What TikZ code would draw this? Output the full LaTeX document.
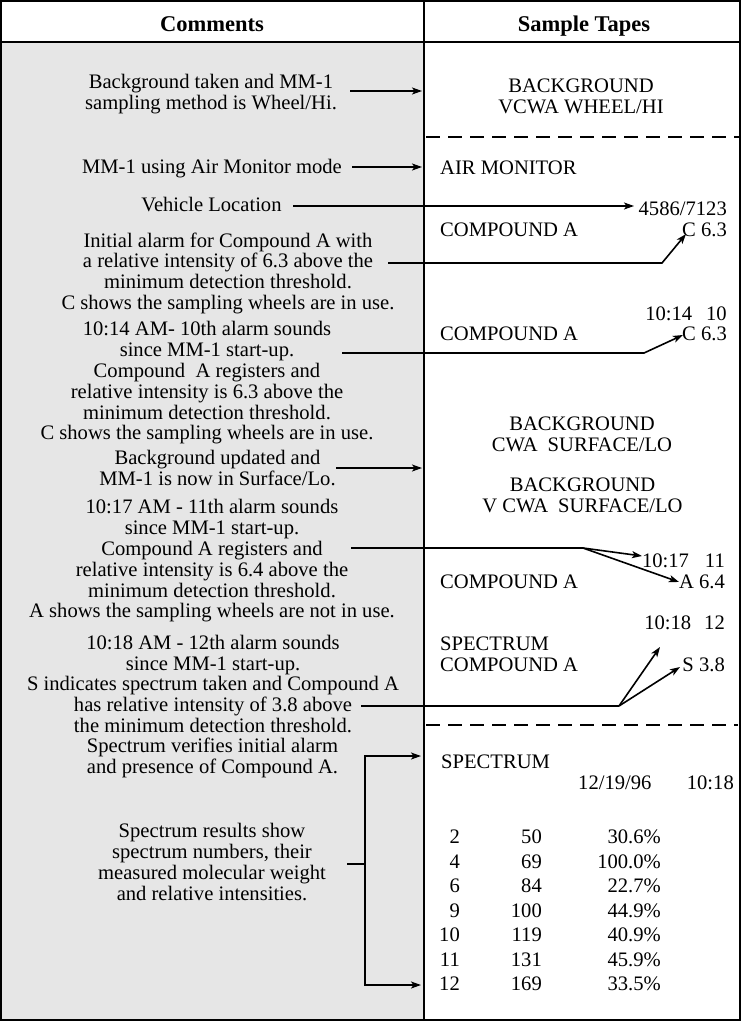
\documentclass[tikz,border=0pt]{standalone}
\usepackage{fontspec}
\setmainfont{Liberation Serif}
\usetikzlibrary{arrows.meta}
\definecolor{leftgray}{RGB}{230,230,230}
\newcommand\cmtfont{\fontsize{20.6pt}{20.8pt}\selectfont}
\newcommand\hdfont{\fontsize{22.5pt}{24pt}\selectfont\bfseries}
\begin{document}
\begin{tikzpicture}[x=1pt,y=-1pt,
  cmt/.style={font=\cmtfont, align=center, inner sep=0pt, yshift=-2.66pt},
  tape/.style={font=\cmtfont, inner sep=0pt, yshift=-2.66pt},
  hd/.style={font=\hdfont, inner sep=0pt, yshift=-2.65pt},
  frame/.style={line width=2pt},
  dashline/.style={line width=1.8pt, dash pattern=on 14pt off 8pt},
  ln/.style={line width=1.6pt},
  arr/.style={line width=1.6pt, -{Stealth[length=10pt,width=7pt,inset=2.5pt]}}]
\useasboundingbox (0,0) rectangle (743,1023);
% background and frame
\fill[leftgray] (1,42) rectangle (423.5,1020);
\draw[frame] (1,1) rectangle (740,1020);
\draw[frame] (423.5,1) -- (423.5,1020);
\draw[frame] (1,42) -- (740,42);
\draw[dashline] (426,137) -- (740,137);
\draw[dashline] (426,725) -- (738,725);
% headers
\node[hd] (hC) at (212,24) {\strut Comments};
\node[hd] (hS) at (584,24) {\strut Sample Tapes};
% comments
\node[cmt] (c1) at (211,92) {\strut Background taken and MM-1\\\strut sampling method is Wheel/Hi.};
\node[cmt] (c2) at (212,167) {\strut MM-1 using Air Monitor mode};
\node[cmt] (c3) at (211.5,205) {\strut Vehicle Location};
\node[cmt] (c4) at (228,271.5) {\strut Initial alarm for Compound A with\\\strut a relative intensity of 6.3 above the\\\strut minimum detection threshold.\\\strut C shows the sampling wheels are in use.};
\node[cmt] (c5) at (207,381) {\strut 10:14 AM- 10th alarm sounds\\\strut since MM-1 start-up.\\\strut Compound\ \ A registers and\\\strut relative intensity is 6.3 above the\\\strut minimum detection threshold.\\\strut C shows the sampling wheels are in use.};
\node[cmt] (c6) at (217.5,468.5) {\strut Background updated and\\\strut MM-1 is now in Surface/Lo.};
\node[cmt] (c7) at (212,559) {\strut 10:17 AM - 11th alarm sounds\\\strut since MM-1 start-up.\\\strut Compound A registers and\\\strut relative intensity is 6.4 above the\\\strut minimum detection threshold.\\\strut A shows the sampling wheels are not in use.};
\node[cmt] (c8) at (213,684) {\strut 10:18 AM - 12th alarm sounds\\\strut since MM-1 start-up.\\\strut S indicates spectrum taken and Compound A\\\strut has relative intensity of 3.8 above\\\strut the minimum detection threshold.};
\node[cmt] (c9) at (212.5,756.5) {\strut Spectrum verifies initial alarm\\\strut and presence of Compound A.};
\node[cmt] (c10) at (212,862) {\strut Spectrum results show\\\strut spectrum numbers, their\\\strut measured molecular weight\\\strut and relative intensities.};
% sample tapes
\node[cmt] (r1) at (581,96) {\strut BACKGROUND\\\strut VCWA WHEEL/HI};
\node[tape,anchor=west] (r2) at (440,168) {\strut AIR MONITOR};
\node[tape,anchor=east] (r3) at (727,209) {\strut 4586/7123};
\node[tape,anchor=west] (r4) at (440,230) {\strut COMPOUND A};
\node[tape,anchor=east] (r5) at (727,230) {\strut C 6.3};
\node[tape,anchor=east] (r6) at (727,314) {\strut 10:14\hspace{14pt}10};
\node[tape,anchor=west] (r7) at (440,334) {\strut COMPOUND A};
\node[tape,anchor=east] (r8) at (727,334) {\strut C 6.3};
\node[cmt] (r9) at (582,434.5) {\strut BACKGROUND\\\strut CWA\hspace{10pt}SURFACE/LO};
\node[cmt] (r10) at (582.5,495) {\strut BACKGROUND\\\strut V CWA\hspace{10pt}SURFACE/LO};
\node[tape,anchor=east] (r11) at (725,561) {\strut 10:17\hspace{16pt}11};
\node[tape,anchor=west] (r12) at (440,582) {\strut COMPOUND A};
\node[tape,anchor=east] (r13) at (725,582) {\strut A 6.4};
\node[tape,anchor=east] (r14) at (725,623) {\strut 10:18\hspace{13pt}12};
\node[tape,anchor=west,align=left] (r15) at (440,654) {\strut SPECTRUM\\\strut COMPOUND A};
\node[tape,anchor=east] (r16) at (725,665) {\strut S 3.8};
\node[tape,anchor=west] (r17) at (441,762) {\strut SPECTRUM};
\node[tape,anchor=west] (r18) at (578,783) {\strut 12/19/96};
\node[tape,anchor=east] (r19) at (734,783) {\strut 10:18};
% spectrum table
\foreach \a/\b/\c [count=\i] in {2/50/30.6, 4/69/100.0, 6/84/22.7, 9/100/44.9, 10/119/40.9, 11/131/45.9, 12/169/33.5}{
  \pgfmathsetmacro\yy{837+24.5*(\i-1)}
  \node[tape,anchor=east] (na\i) at (460,\yy) {\strut\a};
  \node[tape,anchor=east] (nb\i) at (542,\yy) {\strut\b};
  \node[tape,anchor=east] (nc\i) at (661,\yy) {\strut\c\%};
}
% connector points
\coordinate (a1s) at (350,91);  \coordinate (a1e) at (422,91);
\coordinate (a2s) at (352,167); \coordinate (a2e) at (422,167);
\coordinate (a3s) at (293,206); \coordinate (a3e) at (634,206);
\coordinate (a4s) at (388,263); \coordinate (a4b) at (662,263); \coordinate (a4e) at (686,234);
\coordinate (a5s) at (342,353); \coordinate (a5b) at (644,353); \coordinate (a5e) at (683,335);
\coordinate (a6s) at (336,468); \coordinate (a6e) at (422,468);
\coordinate (a7s) at (351,548); \coordinate (a7b) at (583,548);
\coordinate (a7e) at (642,556); \coordinate (a7f) at (679,582);
\coordinate (a8s) at (361,706); \coordinate (a8b) at (619,706);
\coordinate (a8e) at (660,647); \coordinate (a8f) at (680,667);
\coordinate (a9s) at (347,864); \coordinate (a9b) at (365,864);
\coordinate (a9e) at (421,756); \coordinate (a9f) at (421,985);
% connectors
\draw[arr] (a1s) -- (a1e);
\draw[arr] (a2s) -- (a2e);
\draw[arr] (a3s) -- (a3e);
\draw[arr] (a4s) -- (a4b) -- (a4e);
\draw[arr] (a5s) -- (a5b) -- (a5e);
\draw[arr] (a6s) -- (a6e);
\draw[ln] (a7s) -- (a7b);
\draw[arr] (a7b) -- (a7e);
\draw[arr] (a7b) -- (a7f);
\draw[ln] (a8s) -- (a8b);
\draw[arr] (a8b) -- (a8e);
\draw[arr] (a8b) -- (a8f);
\draw[ln] (a9s) -- (a9b);
\draw[arr] (a9b) |- (a9e);
\draw[arr] (a9b) |- (a9f);
\end{tikzpicture}
\end{document}
